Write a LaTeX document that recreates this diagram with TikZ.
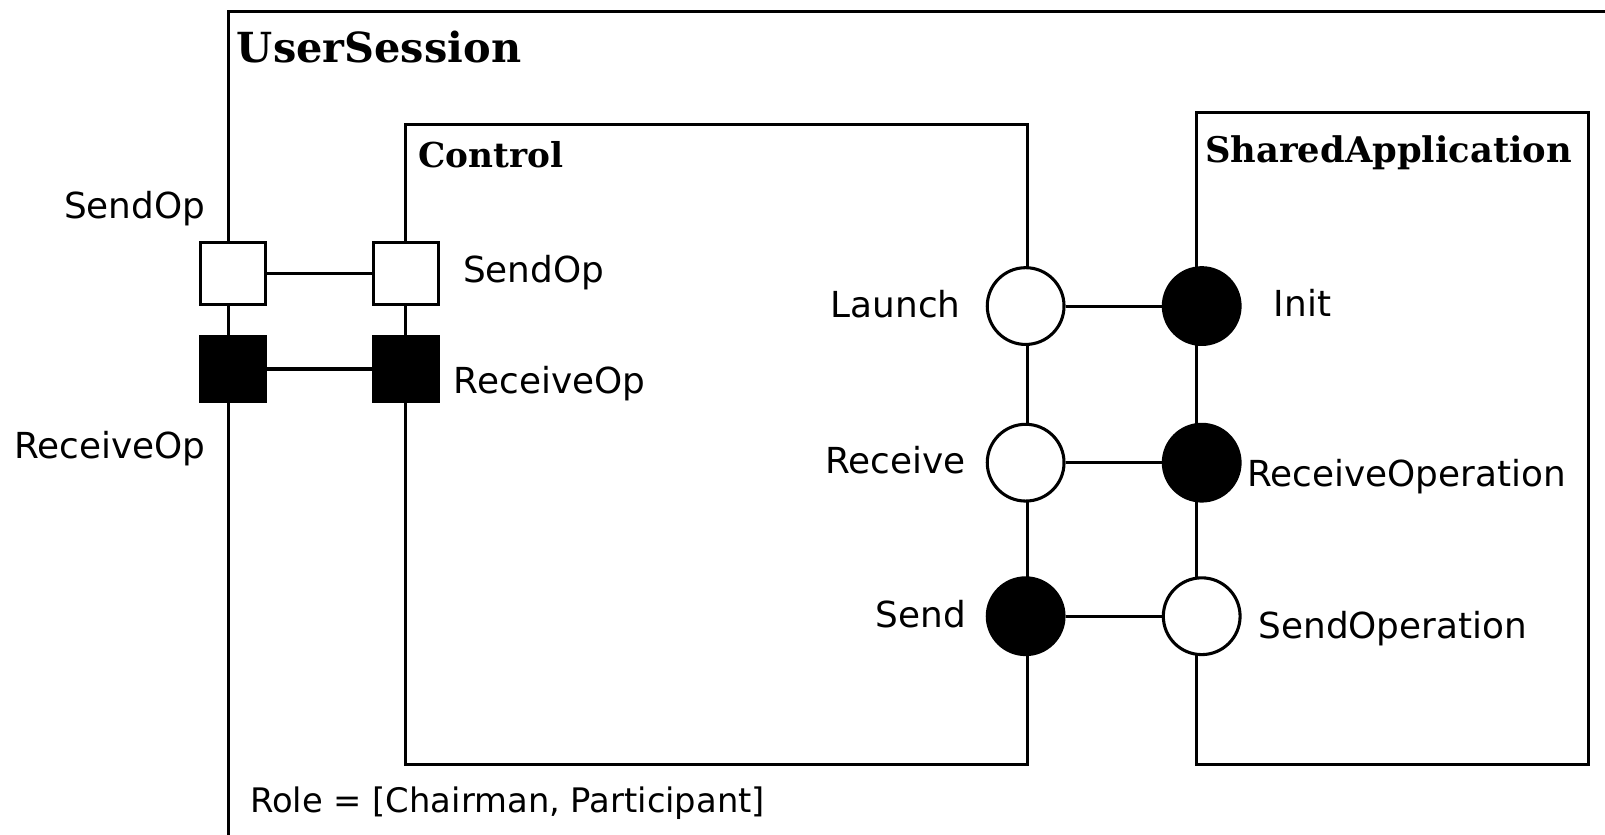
\documentclass[tikz,border=0pt]{standalone}
\usepackage{fontspec}
\setmainfont{DejaVu Sans}
\newfontfamily\ttlfont{DejaVu Serif}
\begin{document}
\begin{tikzpicture}[x=1pt,y=-1pt,
  line width=3pt,
  lbl/.style={font=\fontsize{35}{40}\selectfont, inner sep=0pt},
  ttl/.style={font=\ttlfont\bfseries\fontsize{33.5}{38}\selectfont, inner sep=0pt},
  boxnode/.style={draw, rectangle, inner sep=0pt, anchor=north west},
  wport/.style={draw, fill=white, rectangle, minimum width=63pt, minimum height=61pt, inner sep=0pt},
  bport/.style={wport, fill=black},
  wcirc/.style={draw, fill=white, circle, minimum size=75pt, inner sep=0pt},
  bcirc/.style={wcirc, fill=black},
]
\useasboundingbox (0,0) rectangle (1568,815);
\fill[white] (0,0) rectangle (1568,815);

% containers
\node (usersession) [boxnode, minimum width=1360pt, minimum height=806pt] at (222,10) {};
\node (control) [boxnode, minimum width=607pt, minimum height=625pt] at (395,120) {};
\node (sharedapp) [boxnode, minimum width=383pt, minimum height=637pt] at (1167,108) {};

% titles
\node (tUS) [ttl, font=\ttlfont\bfseries\fontsize{40.5}{45}\selectfont, anchor=base west] at (230,61) {UserSession};
\node (tCt) [ttl, anchor=base west] at (407,164) {Control};
\node (tSA) [ttl, font=\ttlfont\bfseries\fontsize{34.5}{39}\selectfont, anchor=base west] at (1176,159) {SharedApplication};

% square ports
\node (usSend) [wport] at (227.5,267) {};
\node (usRecv) [bport, minimum height=63pt] at (227.5,360.5) {};
\node (ctSend) [wport] at (396.5,267) {};
\node (ctRecv) [bport, minimum height=63pt] at (396.5,360.5) {};
\draw (usSend) -- (ctSend);
\draw (usRecv) -- (ctRecv);

% circular ports
\node (launch) [wcirc] at (1002,299) {};
\node (receive) [wcirc] at (1002,452) {};
\node (send) [bcirc] at (1002,602) {};
\node (init) [bcirc] at (1174,299) {};
\node (recvop) [bcirc] at (1174,452) {};
\node (sendop) [wcirc] at (1174,602) {};
\draw (launch) -- (init);
\draw (receive) -- (recvop);
\draw (send) -- (sendop);

% labels
\node (lUsSend) [lbl, anchor=base east] at (202,213) {SendOp};
\node (lUsRecv) [lbl, anchor=base east] at (202,448) {ReceiveOp};
\node (lCtSend) [lbl, anchor=base west] at (451,276) {SendOp};
\node (lCtRecv) [lbl, anchor=base west] at (442,384) {ReceiveOp};
\node (lLaunch) [lbl, anchor=base east] at (940,310) {Launch};
\node (lInit) [lbl, anchor=base west] at (1243,309) {Init};
\node (lReceive) [lbl, anchor=base east] at (945,463) {Receive};
\node (lRecvOp) [lbl, anchor=base west] at (1217,475) {ReceiveOperation};
\node (lSend) [lbl, anchor=base east] at (945,613) {Send};
\node (lSendOp) [lbl, anchor=base west] at (1228,624) {SendOperation};
\node (lRole) [lbl, font=\fontsize{33}{38}\selectfont, anchor=base west] at (243,794) {Role = [Chairman, Participant]};
\end{tikzpicture}
\end{document}
